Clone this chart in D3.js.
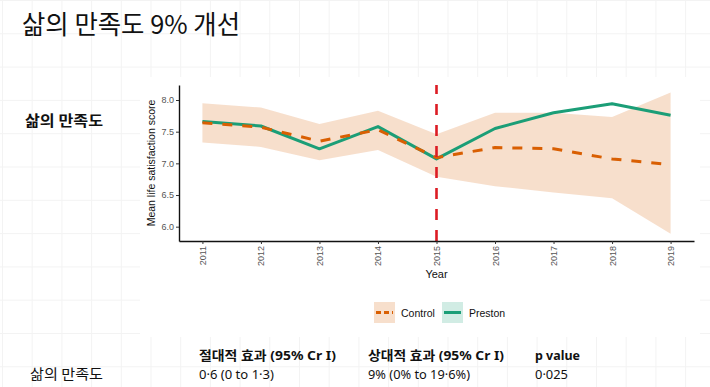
<!DOCTYPE html>
<html>
<head>
<meta charset="utf-8">
<script src="https://cdn.jsdelivr.net/npm/d3@7"></script>
<style>
  body { margin: 0; background: #fff; }
  svg { display: block; }
</style>
</head>
<body>
<svg id="chart" width="710" height="387"></svg>
<script>
// values
const years = [2011, 2012, 2013, 2014, 2015, 2016, 2017, 2018, 2019];
const preston = [7.66, 7.59, 7.23, 7.58, 7.07, 7.55, 7.80, 7.94, 7.76];
const control = [7.64, 7.57, 7.35, 7.53, 7.09, 7.25, 7.23, 7.07, 6.98];
const controlLower = [7.33, 7.26, 7.05, 7.21, 6.79, 6.64, 6.54, 6.45, 5.89];
const controlUpper = [7.95, 7.88, 7.62, 7.83, 7.46, 7.80, 7.80, 7.73, 8.12];
const yTicks = [6.0, 6.5, 7.0, 7.5, 8.0];
const interventionYear = 2015;
const seriesNames = ['Control', 'Preston'];
const tableHeaders = ['절대적 효과 (95% Cr I)', '상대적 효과 (95% Cr I)', 'p value'];
const tableRow = ['0·6 (0 to 1·3)', '9% (0% to 19·6%)', '0·025'];
const outcomeLabel = '삶의 만족도';
const titleText = '삶의 만족도 9% 개선';

const ORANGE = '#d95f02';
const GREEN = '#1b9e77';
const KR = '"Noto Sans CJK KR", "Noto Sans", sans-serif';
const MIX = '"Noto Sans", "Noto Sans CJK KR", sans-serif';
const LAT = '"Liberation Sans", Arial, sans-serif';

const svg = d3.select('#chart');

// faint page grid behind everything
const grid = svg.append('g').attr('stroke', '#f3f3f3').attr('stroke-width', 1);
for (let x = 2.5; x < 710; x += 29.7) {
  grid.append('line').attr('x1', x).attr('x2', x).attr('y1', 0).attr('y2', 387);
}
for (let y = 0.5; y < 387; y += 33.3) {
  grid.append('line').attr('x1', 0).attr('x2', 710).attr('y1', y).attr('y2', y);
}

// white panel that carries the chart image
svg.append('rect').attr('x', 140).attr('y', 77).attr('width', 560).attr('height', 260).attr('fill', '#fff');

svg.append('text')
  .attr('x', 22).attr('y', 34)
  .attr('font-family', KR).attr('font-size', 26)
  .attr('textLength', 218).attr('lengthAdjust', 'spacingAndGlyphs')
  .attr('fill', '#111')
  .text(titleText);

svg.append('text')
  .attr('x', 25).attr('y', 126)
  .attr('font-family', KR).attr('font-size', 15).attr('font-weight', 700)
  .attr('textLength', 78).attr('lengthAdjust', 'spacingAndGlyphs')
  .attr('fill', '#111')
  .text(outcomeLabel);

const x = d3.scaleLinear().domain([2010.6, 2019.4]).range([179, 694]);
const y = d3.scaleLinear().domain([5.774, 8.237]).range([241, 85]);

const rows = years.map((yr, i) => ({
  year: yr, preston: preston[i], control: control[i], lo: controlLower[i], hi: controlUpper[i]
}));

svg.append('path')
  .datum(rows)
  .attr('fill', ORANGE).attr('fill-opacity', 0.2)
  .attr('d', d3.area().x(d => x(d.year)).y0(d => y(d.lo)).y1(d => y(d.hi)));

svg.append('path')
  .datum(rows)
  .attr('fill', 'none').attr('stroke', GREEN).attr('stroke-width', 3)
  .attr('stroke-linejoin', 'round')
  .attr('d', d3.line().x(d => x(d.year)).y(d => y(d.preston)));

svg.append('path')
  .datum(rows)
  .attr('fill', 'none').attr('stroke', ORANGE).attr('stroke-width', 3)
  .attr('stroke-dasharray', '10,10')
  .attr('d', d3.line().x(d => x(d.year)).y(d => y(d.control)));

// intervention marker, drawn bottom to top
svg.append('line')
  .attr('x1', x(interventionYear)).attr('x2', x(interventionYear))
  .attr('y1', y.range()[0]).attr('y2', y.range()[1])
  .attr('stroke', '#dc1c24').attr('stroke-width', 2.6)
  .attr('stroke-dasharray', '11,10');

const yAxis = svg.append('g')
  .attr('transform', `translate(${x.range()[0]},0)`)
  .call(d3.axisLeft(y).tickValues(yTicks).tickFormat(d3.format('.1f')).tickSize(3).tickSizeOuter(0));
yAxis.select('.domain').attr('stroke', '#111').attr('stroke-width', 1.4);
yAxis.selectAll('.tick line').attr('stroke', '#333');
yAxis.selectAll('.tick text')
  .attr('x', -5).attr('fill', '#555')
  .attr('font-family', LAT).attr('font-size', 9);

const xAxis = svg.append('g')
  .attr('transform', `translate(0,${y.range()[0]})`)
  .call(d3.axisBottom(x).tickValues(years).tickFormat(d3.format('d')).tickSize(3).tickSizeOuter(0));
xAxis.select('.domain').attr('stroke', '#111').attr('stroke-width', 1.4);
xAxis.selectAll('.tick line').attr('stroke', '#333');
xAxis.selectAll('.tick text')
  .attr('transform', 'rotate(-90)')
  .attr('x', -5).attr('y', 0).attr('dy', '0.33em')
  .attr('text-anchor', 'end')
  .attr('fill', '#555')
  .attr('font-family', LAT).attr('font-size', 9);

svg.append('text')
  .attr('x', x(interventionYear)).attr('y', 278)
  .attr('text-anchor', 'middle')
  .attr('font-family', LAT).attr('font-size', 11).attr('fill', '#111')
  .text('Year');

svg.append('text')
  .attr('transform', 'translate(155,163) rotate(-90)')
  .attr('text-anchor', 'middle')
  .attr('font-family', LAT).attr('font-size', 10.5).attr('fill', '#111')
  .text('Mean life satisfaction score');

// legend
const legendItems = [
  { name: seriesNames[0], color: ORANGE, dash: '5,3', x: 374 },
  { name: seriesNames[1], color: GREEN, dash: null, x: 442 }
];
const lg = svg.append('g').selectAll('g').data(legendItems).join('g')
  .attr('transform', d => `translate(${d.x},302)`);
lg.append('rect').attr('width', 21).attr('height', 21)
  .attr('fill', d => d.color).attr('fill-opacity', 0.2);
lg.append('line')
  .attr('x1', 2).attr('x2', 19).attr('y1', 10.5).attr('y2', 10.5)
  .attr('stroke', d => d.color).attr('stroke-width', 3)
  .attr('stroke-dasharray', d => d.dash);
lg.append('text')
  .attr('x', 27).attr('y', 14.5)
  .attr('font-family', LAT).attr('font-size', 10.5).attr('fill', '#111')
  .text(d => d.name);

// effect table
const colX = [199, 368, 535];
const headerLen = [137, 136, 45];
const rowLen = [75, 102, 33];
svg.append('g').selectAll('text').data(tableHeaders).join('text')
  .attr('x', (d, i) => colX[i]).attr('y', 360)
  .attr('font-family', MIX).attr('font-size', 13).attr('font-weight', 700)
  .attr('textLength', (d, i) => headerLen[i]).attr('lengthAdjust', 'spacingAndGlyphs')
  .attr('fill', '#111')
  .text(d => d);
svg.append('g').selectAll('text').data(tableRow).join('text')
  .attr('x', (d, i) => colX[i]).attr('y', 379)
  .attr('font-family', MIX).attr('font-size', 13)
  .attr('textLength', (d, i) => rowLen[i]).attr('lengthAdjust', 'spacingAndGlyphs')
  .attr('fill', '#111')
  .text(d => d);
svg.append('text')
  .attr('x', 30).attr('y', 379)
  .attr('font-family', KR).attr('font-size', 13.5)
  .attr('textLength', 73).attr('lengthAdjust', 'spacingAndGlyphs')
  .attr('fill', '#111')
  .text(outcomeLabel);
</script>
</body>
</html>
